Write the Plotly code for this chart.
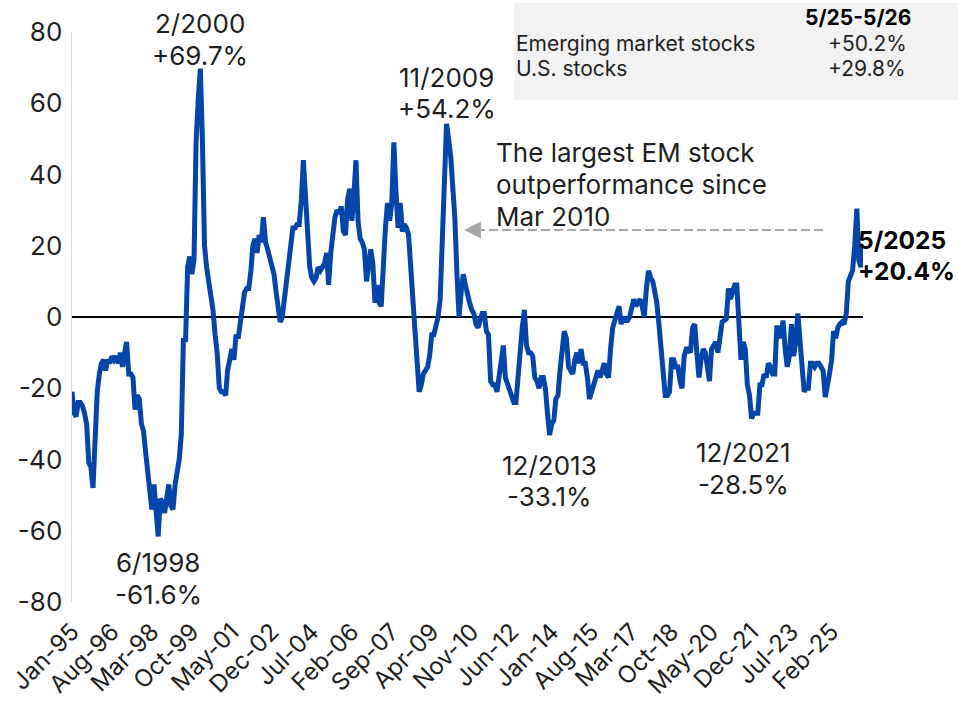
import pandas as pd
import plotly.graph_objects as go

# ---------------- data ----------------
start_month = "1995-01-01"
values = [
    -21, -27, -28, -24, -24, -25, -27, -30, -41, -42,      # 0-9
    -48, -36, -21, -16, -13, -12, -15, -12, -13, -11,      # 10-19
    -12, -11, -13, -10, -14, -10, -7, -16, -16, -17,       # 20-29
    -26, -22, -23, -30, -32, -38, -43, -47, -54, -47,      # 30-39
    -53, -61.6, -51, -52, -55, -51, -47, -53, -54, -47,    # 40-49
    -43, -40, -33, -6, -7, 14, 17, 12, 16, 49,             # 50-59
    61, 69.7, 50, 20, 14, 10, 7, 2, -5, -10,               # 60-69
    -20, -21, -21, -22, -15, -12, -9, -12, -5, -6,         # 70-79
    -1, 3, 7, 8, 8, 13, 20, 22, 18, 23,                    # 80-89
    21, 28, 21, 19, 17, 15, 12, 7, 3, -1.4,                # 90-99
    0, 4, 10, 15, 19, 25, 25, 26, 26, 33,                  # 100-109
    44, 35, 22, 14, 11, 10, 11, 14, 13, 14,                # 110-119
    15, 18, 9, 18, 24, 28, 30, 29, 31, 24,                 # 120-129
    23, 33, 36, 27, 34, 44, 27, 22, 21, 19,                # 130-139
    10, 14, 19, 15, 4, 9, 4, 3, 17, 25,                    # 140-149
    32, 27, 32, 49, 35, 25, 32, 24, 26, 25,                # 150-159
    23, 14, 4, -7, -17, -21, -19, -16, -15, -14,           # 160-169
    -11, -5, -5, -3, 0, 5, 21, 45, 54.2, 50,               # 170-179
    45, 36, 28, 12, 0, 7, 12, 9, 6, 4,                     # 180-189
    2, 1, -2, -3, -1, 1, 1, -4, -5, -18,                   # 190-199
    -19, -19, -21, -16, -12, -8, -17, -19, -21, -22,       # 200-209
    -24, -24, -14, -10, -3, 2, -8, -10, -10, -11,          # 210-219
    -17, -18, -20, -17, -17, -20, -27, -33.1, -30, -29,    # 220-229
    -23, -22, -15, -9, -4, -6, -14, -15, -16, -12,         # 230-239
    -10, -13, -9, -13, -13, -17, -23, -21, -19, -17,       # 240-249
    -15, -17, -15, -13, -16, -17, -9, -3, -1, 1,           # 250-259
    3, -2, 0, -1, -1, 0, 3, 5, 3, 4,                       # 260-269
    5, 3, 0, 8, 13, 11, 10, 7, 4, -2,                      # 270-279
    -9, -17, -22, -22, -21, -12, -12, -14, -14, -18,       # 280-289
    -20, -11, -9, -9, -10, -3, -2, -10, -17, -12,          # 290-299
    -9, -10, -13, -18, -9, -8, -7, -10, -5, -1.4,          # 300-309
    -1, -0.5, 8, 5, 7, 9, 9, -1, -12, -7,                  # 310-319
    -9, -19, -22, -28.5, -27, -27, -27, -19, -19, -16,     # 320-329
    -17, -13, -14, -16, -16, -3, -3, -6, -1, -9,           # 330-339
    -14, -11, -2, -11, -7, 1, -8, -14, -21, -20,           # 340-349
    -20, -13, -13, -14, -13, -13, -14, -15, -22.5, -20,    # 350-359
    -16, -12, -4, -6, -3, -2, -1.4, -2, 1, 10,             # 360-369
    12, 13, 20, 30.4, 16, 14, 20.4,                        # 370-376
]
dates = pd.date_range(start_month, periods=len(values), freq="MS")

y_ticks = [-80, -60, -40, -20, 0, 20, 40, 60, 80]
y_ticktext = ["-80", "-60", "-40", "-20", "0", "20", "40", "60", "80"]
tick_step = 19  # months between x tick labels

# labelled extremes: (index into series, label lines)
peak_labels = [
    (61, ["2/2000", "+69.7%"]),
    (178, ["11/2009", "+54.2%"]),
    (41, ["6/1998", "-61.6%"]),
    (227, ["12/2013", "-33.1%"]),
    (323, ["12/2021", "-28.5%"]),
]
last_label = ["5/2025", "+20.4%"]
note_lines = ["The largest EM stock", "outperformance since", "Mar 2010"]

table_header = "5/25-5/26"
table_rows = ["Emerging market stocks", "U.S. stocks"]
table_vals = ["+50.2%", "+29.8%"]

# ---------------- figure ----------------
W, H = 958, 704
# plot area in page pixels: x 72..863, y 32..602
L, T = 72, 32
R, B = W - 863, H - 602
pw, ph = W - L - R, H - T - B


def px_x(px):  # page pixel -> paper x
    return (px - L) / pw


def px_y(py):  # page pixel -> paper y
    return (H - B - py) / ph


FONT = "Inter"
TXT = "#1f1f1f"
BLUE = "#0445A9"

# label placement (pixel offsets of each text line from its point)
label_shift = {61: (0, [45, 13]), 178: (0, [46, 15]),
               41: (0, [-26, -58]), 227: (0, [-31, -62]), 323: (-8, [-34, -66])}

fig = go.Figure()
fig.add_trace(go.Scatter(
    x=dates, y=values, mode="lines",
    line=dict(color=BLUE, width=5),
    hoverinfo="skip", showlegend=False,
))

annotations = []
for idx, lines in peak_labels:
    xs, shifts = label_shift[idx]
    for line_txt, ys in zip(lines, shifts):
        annotations.append(dict(
            x=dates[idx], y=values[idx], xref="x", yref="y", text=line_txt,
            showarrow=False, xanchor="center", yanchor="middle",
            yshift=ys, xshift=xs,
            font=dict(family=FONT, size=26, color=TXT),
        ))

for line_txt, ys in zip(last_label, [4, -27]):
    annotations.append(dict(
        x=dates[-1], y=values[-1], xref="x", yref="y",
        text="<b>" + line_txt + "</b>",
        showarrow=False, xanchor="left", yanchor="middle", xshift=-7, yshift=ys,
        font=dict(family=FONT, size=24.5, color="#000000"),
    ))

for i, line_txt in enumerate(note_lines):
    annotations.append(dict(
        x=px_x(494), y=px_y(152 + 32 * i), xref="paper", yref="paper",
        text=line_txt, showarrow=False, xanchor="left", yanchor="middle",
        font=dict(family=FONT, size=26, color=TXT),
    ))

# arrow head of the dashed pointer
annotations.append(dict(
    x=px_x(464), y=px_y(230), xref="paper", yref="paper", text="",
    ax=17, ay=0, axref="pixel", ayref="pixel",
    showarrow=True, arrowhead=2, arrowsize=1.7, arrowwidth=2,
    arrowcolor="#a6a6a6",
))

# table texts
annotations.append(dict(
    x=px_x(858), y=px_y(18), xref="paper", yref="paper",
    text="<b>" + table_header + "</b>", showarrow=False,
    xanchor="center", yanchor="middle",
    font=dict(family=FONT, size=21, color="#000000"),
))
for i, (name, val) in enumerate(zip(table_rows, table_vals)):
    yy = 44 + 25 * i
    annotations.append(dict(
        x=px_x(514), y=px_y(yy), xref="paper", yref="paper", text=name,
        showarrow=False, xanchor="left", yanchor="middle",
        font=dict(family=FONT, size=21, color=TXT),
    ))
    annotations.append(dict(
        x=px_x(867), y=px_y(yy), xref="paper", yref="paper", text=val,
        showarrow=False, xanchor="center", yanchor="middle",
        font=dict(family=FONT, size=21, color=TXT),
    ))

shapes = [
    dict(type="rect", xref="paper", yref="paper",
         x0=px_x(514), x1=px_x(960), y0=px_y(100), y1=px_y(3),
         fillcolor="#f2f2f2", line=dict(width=0), layer="below"),
    dict(type="line", xref="paper", yref="paper",
         x0=px_x(476), x1=px_x(825), y0=px_y(230), y1=px_y(230),
         line=dict(color="#a6a6a6", width=2, dash="9px,4px")),
]

fig.update_layout(
    width=W, height=H,
    margin=dict(l=L, r=R, t=T, b=B, pad=0, autoexpand=False),
    paper_bgcolor="white", plot_bgcolor="white",
    font=dict(family=FONT, size=22, color=TXT),
    showlegend=False,
    annotations=annotations,
    shapes=shapes,
    xaxis=dict(
        type="date", range=[dates[0], dates[-1]], automargin=False,
        tickmode="array", tickvals=list(dates[::tick_step]),
        tickformat="%b-%y", tickangle=-45, ticklabeloverflow="allow",
        showgrid=False, zeroline=False, showline=False,
        ticks="", ticklabelstandoff=10,
        tickfont=dict(family=FONT, size=24, color=TXT),
    ),
    yaxis=dict(
        range=[-80, 80], automargin=False,
        tickmode="array", tickvals=y_ticks, ticktext=y_ticktext,
        showgrid=False, zeroline=True, zerolinecolor="#000000", zerolinewidth=1.5,
        showline=True, linecolor="#d9d9d9", linewidth=1.5,
        ticks="", ticklabelstandoff=3,
        tickfont=dict(family=FONT, size=26, color=TXT),
    ),
)

# remove the browser's default page margin so the figure fills the window
fig.write_html(
    "out.html",
    config={"displayModeBar": False, "staticPlot": True},
    post_script="document.body.style.margin='0';document.body.style.overflow='hidden';",
)
